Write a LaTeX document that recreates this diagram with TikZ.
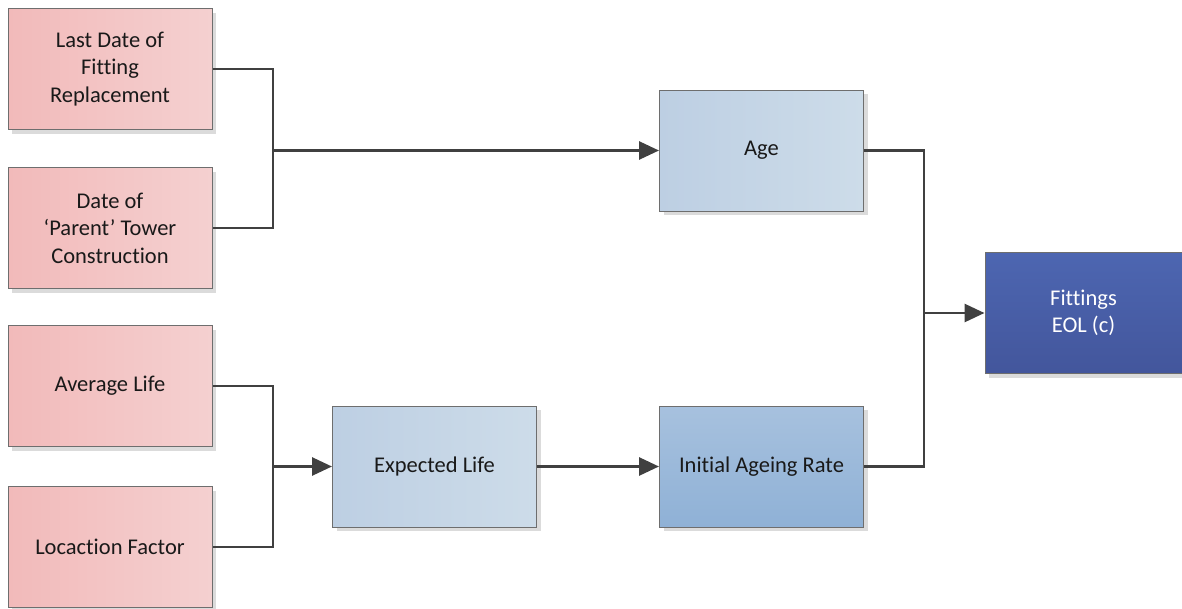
\documentclass[tikz,border=0pt]{standalone}
\usepackage{fontspec}
\setmainfont{Carlito}[Ligatures=NoCommon]
\usetikzlibrary{arrows.meta,shadows}
\definecolor{lineC}{HTML}{404040}
\definecolor{bordC}{HTML}{6E6E6E}
\tikzset{
  box/.style={draw=bordC, line width=1pt, minimum width=204pt, minimum height=121pt,
    align=center, font=\fontsize{22.5}{27.5}\selectfont, inner sep=2pt, text=black!90,
    drop shadow={shadow xshift=4pt, shadow yshift=-4pt, fill=black!14, opacity=1}},
  redbox/.style={box, left color={rgb,255:red,242;green,186;blue,186}, right color={rgb,255:red,244;green,208;blue,208}},
  lbbox/.style={box, left color={rgb,255:red,189;green,207;blue,227}, right color={rgb,255:red,205;green,220;blue,233}},
  dbbox/.style={box, top color={rgb,255:red,167;green,193;blue,222}, bottom color={rgb,255:red,143;green,177;blue,214}},
  navybox/.style={box, top color={rgb,255:red,77;green,102;blue,177}, bottom color={rgb,255:red,67;green,86;blue,156}, text=white},
  conn/.style={draw=lineC, line width=2.8pt},
  arr/.style={conn, -{Triangle[length=20pt,width=18pt]}}
}
\begin{document}
\begin{tikzpicture}[x=1pt,y=-1pt]
\useasboundingbox (0,0) rectangle (1182,608);
\node[redbox] (ld) at (110,69) {Last Date of\\Fitting\\Replacement};
\node[redbox] (pt) at (110,228) {Date of\\‘Parent’ Tower\\Construction};
\node[redbox] (al) at (110,386) {Average Life};
\node[redbox] (lf) at (110,547) {Locaction Factor};
\node[lbbox] (age) at (761.5,150.5) {Age};
\node[lbbox] (el) at (434.5,466.5) {Expected Life};
\node[dbbox] (iar) at (761.5,466.5) {Initial Ageing Rate};
\node[navybox, minimum width=197pt] (eol) at (1083.5,313) {Fittings\\EOL (c)};
\coordinate (j1) at (273,150.5);
\coordinate (j2) at (273,466.5);
\coordinate (j3) at (924,313);
\draw[conn] (ld.east) -| (j1) |- (pt.east);
\draw[arr] (j1) -- (age.west);
\draw[conn] (al.east) -| (j2) |- (lf.east);
\draw[arr] (j2) -- (el.west);
\draw[arr] (el.east) -- (iar.west);
\draw[conn] (age.east) -| (j3) |- (iar.east);
\draw[arr] (j3) -- (eol.west);
\end{tikzpicture}
\end{document}
